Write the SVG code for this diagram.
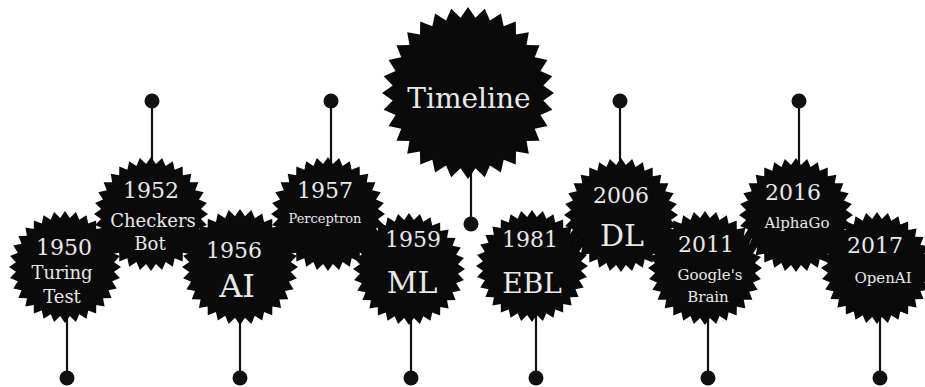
<svg xmlns="http://www.w3.org/2000/svg" xmlns:xlink="http://www.w3.org/1999/xlink" width="925" height="387" viewBox="0 0 925 387">
<style>
.t{font-family:"DejaVu Serif","Liberation Serif",serif;fill:#e8e8e8;text-anchor:middle}
.yr{font-size:22px}
.big{font-size:30px}
.nm{font-size:18px}
.ln{stroke:#111;stroke-width:2.2}
.dot{fill:#111}
.star{fill:#0a0a0a}
</style>
<defs>
<polygon id="star" points="0,-100 8.63,-87.58 19.51,-98.08 25.54,-84.21 38.27,-92.39 41.48,-77.61 55.56,-83.15 55.83,-68.02 70.71,-70.71 68.02,-55.83 83.15,-55.56 77.61,-41.48 92.39,-38.27 84.21,-25.54 98.08,-19.51 87.58,-8.63 100,0 87.58,8.63 98.08,19.51 84.21,25.54 92.39,38.27 77.61,41.48 83.15,55.56 68.02,55.83 70.71,70.71 55.83,68.02 55.56,83.15 41.48,77.61 38.27,92.39 25.54,84.21 19.51,98.08 8.63,87.58 0,100 -8.63,87.58 -19.51,98.08 -25.54,84.21 -38.27,92.39 -41.48,77.61 -55.56,83.15 -55.83,68.02 -70.71,70.71 -68.02,55.83 -83.15,55.56 -77.61,41.48 -92.39,38.27 -84.21,25.54 -98.08,19.51 -87.58,8.63 -100,0 -87.58,-8.63 -98.08,-19.51 -84.21,-25.54 -92.39,-38.27 -77.61,-41.48 -83.15,-55.56 -68.02,-55.83 -70.71,-70.71 -55.83,-68.02 -55.56,-83.15 -41.48,-77.61 -38.27,-92.39 -25.54,-84.21 -19.51,-98.08 -8.63,-87.58"/>
</defs>
<rect width="925" height="387" fill="#ffffff"/>
<g id="connectors">
<line class="ln" x1="67" y1="300" x2="67" y2="378"/><circle class="dot" cx="67" cy="378" r="7.5"/>
<line class="ln" x1="152" y1="101" x2="152" y2="180"/><circle class="dot" cx="152" cy="101" r="7.5"/>
<line class="ln" x1="240" y1="300" x2="240" y2="378"/><circle class="dot" cx="240" cy="378" r="7.5"/>
<line class="ln" x1="331" y1="101" x2="331" y2="180"/><circle class="dot" cx="331" cy="101" r="7.5"/>
<line class="ln" x1="411" y1="300" x2="411" y2="378"/><circle class="dot" cx="411" cy="378" r="7.5"/>
<line class="ln" x1="471" y1="150" x2="471" y2="224"/><circle class="dot" cx="471" cy="224" r="7.5"/>
<line class="ln" x1="536" y1="300" x2="536" y2="378"/><circle class="dot" cx="536" cy="378" r="7.5"/>
<line class="ln" x1="620" y1="101" x2="620" y2="180"/><circle class="dot" cx="620" cy="101" r="7.5"/>
<line class="ln" x1="708" y1="300" x2="708" y2="378"/><circle class="dot" cx="708" cy="378" r="7.5"/>
<line class="ln" x1="799" y1="101" x2="799" y2="180"/><circle class="dot" cx="799" cy="101" r="7.5"/>
<line class="ln" x1="880" y1="300" x2="880" y2="378"/><circle class="dot" cx="880" cy="378" r="7.5"/>
</g>
<g id="timeline">
<use xlink:href="#star" class="star" transform="translate(468 93) scale(0.86)"/>
<text class="t" x="469" y="108" style="font-size:28px">Timeline</text>
</g>
<g id="n1950">
<use xlink:href="#star" class="star" transform="translate(65 267) scale(0.56)"/>
<text class="t yr" x="64" y="255">1950</text>
<text class="t nm" x="62" y="279">Turing</text>
<text class="t nm" x="62" y="303">Test</text>
</g>
<g id="n1952">
<use xlink:href="#star" class="star" transform="translate(151 214) scale(0.57)"/>
<text class="t yr" x="151" y="198">1952</text>
<text class="t nm" x="153" y="227">Checkers</text>
<text class="t nm" x="150" y="250">Bot</text>
</g>
<g id="n1956">
<use xlink:href="#star" class="star" transform="translate(240 267) scale(0.58)"/>
<text class="t yr" x="234" y="258">1956</text>
<text class="t big" x="237" y="297" style="font-size:32px">AI</text>
</g>
<g id="n1957">
<use xlink:href="#star" class="star" transform="translate(328 214) scale(0.57)"/>
<text class="t yr" x="325" y="198">1957</text>
<text class="t" x="325" y="223" style="font-size:13px">Perceptron</text>
</g>
<g id="n1959">
<use xlink:href="#star" class="star" transform="translate(409 269) scale(0.56)"/>
<text class="t yr" x="413" y="247">1959</text>
<text class="t big" x="412" y="293">ML</text>
</g>
<g id="n1981">
<use xlink:href="#star" class="star" transform="translate(532 266) scale(0.56)"/>
<text class="t yr" x="530" y="247">1981</text>
<text class="t big" x="532" y="293" style="font-size:28px">EBL</text>
</g>
<g id="n2006">
<use xlink:href="#star" class="star" transform="translate(621 215) scale(0.57)"/>
<text class="t yr" x="621" y="203">2006</text>
<text class="t big" x="622" y="246">DL</text>
</g>
<g id="n2011">
<use xlink:href="#star" class="star" transform="translate(705 268) scale(0.57)"/>
<text class="t yr" x="706" y="252">2011</text>
<text class="t" x="710" y="280" style="font-size:15px">Google's</text>
<text class="t" x="708" y="302" style="font-size:15px">Brain</text>
</g>
<g id="n2016">
<use xlink:href="#star" class="star" transform="translate(796 215) scale(0.57)"/>
<text class="t yr" x="793" y="200">2016</text>
<text class="t" x="797" y="228" style="font-size:15px">AlphaGo</text>
</g>
<g id="n2017">
<use xlink:href="#star" class="star" transform="translate(877 268) scale(0.56)"/>
<text class="t yr" x="875" y="253">2017</text>
<text class="t" x="883" y="283" style="font-size:15px">OpenAI</text>
</g>
</svg>
